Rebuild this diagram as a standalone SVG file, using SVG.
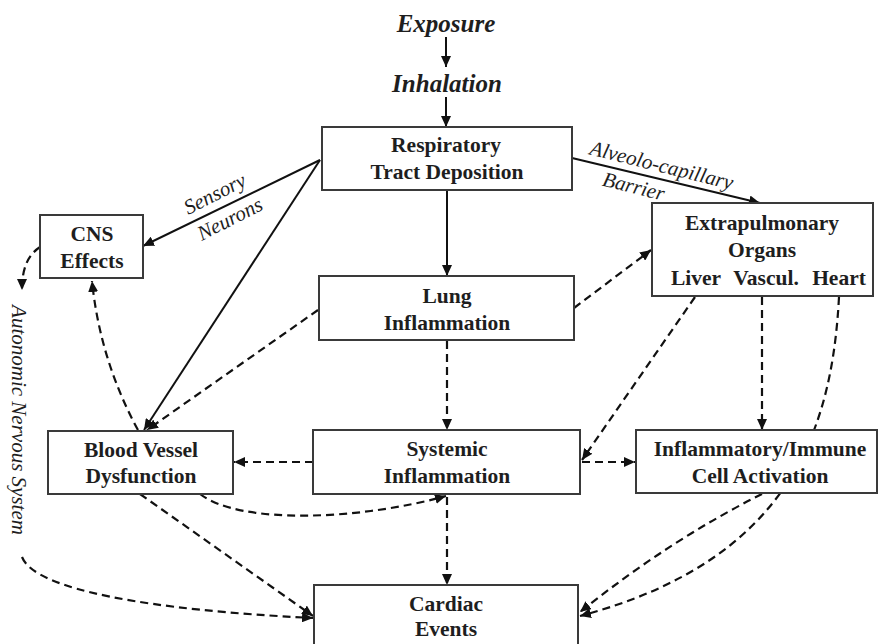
<svg xmlns="http://www.w3.org/2000/svg" width="883" height="644" viewBox="0 0 883 644">
  <style>
    .box { fill: #ffffff; stroke: #3a3a3a; stroke-width: 2; }
    .lbl { font-family: "Liberation Serif", "Times New Roman", serif; font-weight: bold; font-size: 21.5px; fill: #1e1e1e; text-anchor: middle; }
    .head { font-family: "Liberation Serif", "Times New Roman", serif; font-weight: bold; font-style: italic; font-size: 25px; fill: #1e1e1e; text-anchor: middle; }
    .note { font-family: "Liberation Serif", "Times New Roman", serif; font-style: italic; font-size: 21px; fill: #1e1e1e; text-anchor: middle; }
    .solid { fill: none; stroke: #111; stroke-width: 2; marker-end: url(#arrow); }
    .dash { fill: none; stroke: #111; stroke-width: 2.2; stroke-dasharray: 8 5; marker-end: url(#arrow); }
  </style>
  <defs>
    <marker id="arrow" viewBox="0 0 11 10" refX="11" refY="5" markerWidth="11" markerHeight="10" markerUnits="userSpaceOnUse" orient="auto">
      <path d="M0,0 L11,5 L0,10 z" fill="#111"/>
    </marker>
  </defs>

  <rect width="883" height="644" fill="#ffffff"/>

  <!-- connectors -->
  <g id="connectors">
    <!-- solid pathway -->
    <line class="solid" x1="446" y1="37" x2="446" y2="67"/>
    <line class="solid" x1="446" y1="97" x2="446" y2="127"/>
    <line class="solid" x1="447" y1="190" x2="447" y2="276"/>
    <line class="solid" x1="320" y1="160" x2="143" y2="246"/>
    <line class="solid" x1="320" y1="160" x2="144" y2="430"/>
    <line class="solid" x1="572" y1="158" x2="760" y2="203"/>

    <!-- dashed pathway -->
    <line class="dash" x1="447" y1="341" x2="447" y2="430"/>
    <line class="dash" x1="574" y1="308" x2="651" y2="250"/>
    <line class="dash" x1="318" y1="310" x2="147" y2="430"/>
    <path class="dash" d="M138,430 Q100,360 92,281"/>
    <path class="dash" d="M40,247 C28,255 22,268 22,290"/>
    <path class="dash" d="M22,557 C35,590 150,610 313,618"/>
    <line class="dash" x1="313" y1="462" x2="234" y2="462"/>
    <line class="dash" x1="582" y1="462" x2="635" y2="462"/>
    <line class="dash" x1="695" y1="297" x2="582" y2="460"/>
    <line class="dash" x1="762" y1="297" x2="762" y2="430"/>
    <path class="dash" d="M839,297 C832,430 790,560 580,616"/>
    <path class="dash" d="M762,494 Q670,540 580,612"/>
    <path class="dash" d="M200,494 C240,525 360,520 446,496"/>
    <line class="dash" x1="447" y1="497" x2="447" y2="585"/>
    <line class="dash" x1="140" y1="494" x2="313" y2="616"/>

    <!-- pathway labels -->
    <text class="note" transform="translate(218,200) rotate(-27)">Sensory</text>
    <text class="note" transform="translate(233,225) rotate(-27)">Neurons</text>
    <text class="note" transform="translate(660,172) rotate(14)">Alveolo-capillary</text>
    <text class="note" transform="translate(632,193) rotate(14)">Barrier</text>
    <text class="note" transform="translate(12,420) rotate(90)">Autonomic Nervous System</text>
  </g>

  <!-- nodes -->
  <g id="exposure">
    <text class="head" x="446" y="32">Exposure</text>
  </g>
  <g id="inhalation">
    <text class="head" x="447" y="92">Inhalation</text>
  </g>
  <g id="respiratory">
    <rect class="box" x="322" y="127" width="250" height="63"/>
    <text class="lbl" x="446" y="152">Respiratory</text>
    <text class="lbl" x="447" y="179">Tract Deposition</text>
  </g>
  <g id="cns">
    <rect class="box" x="40" y="215" width="103" height="63"/>
    <text class="lbl" x="92" y="241">CNS</text>
    <text class="lbl" x="92" y="268">Effects</text>
  </g>
  <g id="extrapulmonary">
    <rect class="box" x="652" y="203" width="221" height="93"/>
    <text class="lbl" x="762" y="230">Extrapulmonary</text>
    <text class="lbl" x="762" y="257">Organs</text>
    <text class="lbl" x="696" y="285">Liver</text>
    <text class="lbl" x="766" y="285">Vascul.</text>
    <text class="lbl" x="839" y="285">Heart</text>
  </g>
  <g id="lung">
    <rect class="box" x="319" y="276" width="255" height="64"/>
    <text class="lbl" x="447" y="303">Lung</text>
    <text class="lbl" x="447" y="330">Inflammation</text>
  </g>
  <g id="blood-vessel">
    <rect class="box" x="48" y="431" width="185" height="63"/>
    <text class="lbl" x="141" y="457">Blood Vessel</text>
    <text class="lbl" x="141" y="483">Dysfunction</text>
  </g>
  <g id="systemic">
    <rect class="box" x="313" y="430" width="267" height="64"/>
    <text class="lbl" x="447" y="456">Systemic</text>
    <text class="lbl" x="447" y="483">Inflammation</text>
  </g>
  <g id="immune">
    <rect class="box" x="636" y="430" width="241" height="63"/>
    <text class="lbl" x="760" y="456">Inflammatory/Immune</text>
    <text class="lbl" x="760" y="483">Cell Activation</text>
  </g>
  <g id="cardiac">
    <rect class="box" x="314" y="585" width="264" height="75"/>
    <text class="lbl" x="446" y="611">Cardiac</text>
    <text class="lbl" x="446" y="636">Events</text>
  </g>
</svg>
